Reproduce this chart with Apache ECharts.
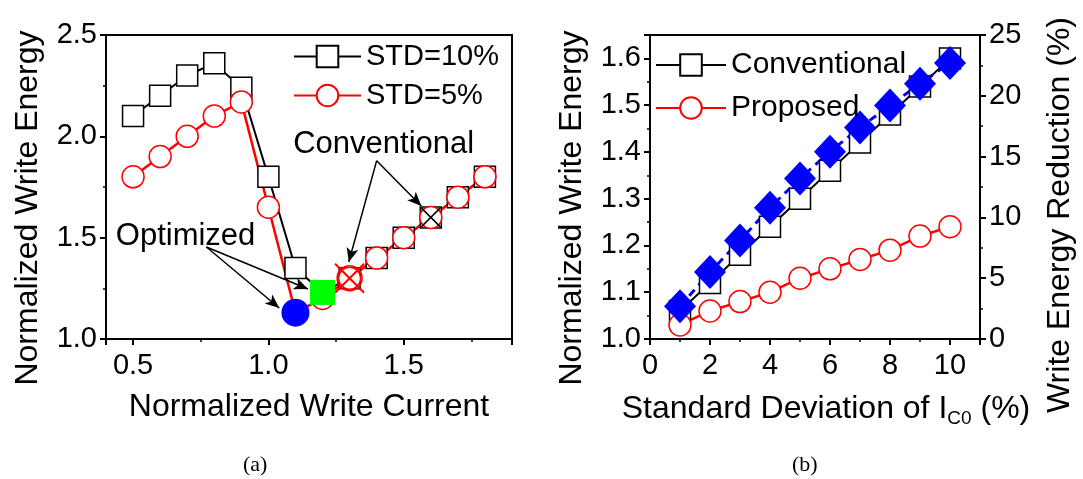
<!DOCTYPE html>
<html>
<head>
<meta charset="utf-8">
<script src="https://cdn.jsdelivr.net/npm/echarts@6/dist/echarts.min.js"></script>
<style>
  html, body { margin: 0; padding: 0; background: #fff; }
  #chart { width: 1083px; height: 479px; }
</style>
</head>
<body>
<div id="chart"></div>
<script>
// (a) write energy vs write current
var currentX = [0.5, 0.6, 0.7, 0.8, 0.9, 1.0, 1.1, 1.2, 1.3, 1.4, 1.5, 1.6, 1.7, 1.8];
var std10 = [2.10, 2.20, 2.30, 2.36, 2.24, 1.80, 1.35, 1.23, 1.30, 1.40, 1.50, 1.60, 1.70, 1.80];
var std5 = [1.80, 1.90, 2.00, 2.10, 2.17, 1.65, 1.13, 1.20, 1.30, 1.40, 1.50, 1.60, 1.70, 1.80];
var optBlue = [1.1, 1.13];
var optGreen = [1.2, 1.23];
var convRed = [1.3, 1.30];
var convBlack = [1.6, 1.60];

// (b) write energy vs std of Ic0
var sigma = [1, 2, 3, 4, 5, 6, 7, 8, 9, 10];
var conventional = [1.06, 1.12, 1.18, 1.24, 1.30, 1.36, 1.42, 1.48, 1.54, 1.60];
var proposed = [1.03, 1.06, 1.08, 1.10, 1.13, 1.15, 1.17, 1.19, 1.22, 1.24];
var reduction = [2.7, 5.5, 8.1, 10.8, 13.2, 15.4, 17.4, 19.2, 21.0, 22.7];

function pairs(xs, ys) {
    return xs.map(function (x, i) { return [x, ys[i]]; });
}

var myChart = echarts.init(document.getElementById('chart'));

var axisBase = {
    axisLine: { lineStyle: { color: '#000', width: 2 } },
    axisTick: { inside: false, length: 6, lineStyle: { color: '#000', width: 2 } },
    minorTick: { show: true, splitNumber: 2, length: 3, lineStyle: { color: '#000', width: 1.5 } },
    splitLine: { show: false },
    nameLocation: 'middle',
    nameTextStyle: { fontSize: 32, color: '#000' }
};

function axis(extra) {
    return Object.assign({}, JSON.parse(JSON.stringify(axisBase)), extra);
}

var option = {
    animation: false,
    textStyle: { fontFamily: 'Liberation Sans' },
    grid: [
        { left: 106, top: 35, width: 406, height: 304, show: true, borderColor: '#000', borderWidth: 2 },
        { left: 650, top: 35, width: 330, height: 304, show: true, borderColor: '#000', borderWidth: 2 }
    ],
    xAxis: [
        axis({
            gridIndex: 0, type: 'value', min: 0.4, max: 1.9, splitNumber: 3,
            name: 'Normalized Write Current', nameGap: 52,
            axisLabel: { fontSize: 29, color: '#000', margin: 12, showMinLabel: false, showMaxLabel: false,
                formatter: function (v) { return v.toFixed(1); } }
        }),
        axis({
            gridIndex: 1, type: 'value', min: 0, max: 11, interval: 2,
            name: 'Standard Deviation of I{sub|C0} (%)', nameGap: 52,
            nameTextStyle: { fontSize: 32, color: '#000', padding: [0, 0, 0, 22],
                rich: { sub: { fontSize: 19, padding: [18, 0, 0, 0] } } },
            axisLabel: { fontSize: 29, color: '#000', margin: 12, showMaxLabel: false }
        })
    ],
    yAxis: [
        axis({
            gridIndex: 0, type: 'value', min: 1.0, max: 2.5, interval: 0.5,
            name: 'Normalized Write Energy', nameGap: 62,
            nameTextStyle: { fontSize: 32, color: '#000', padding: [0, 42, 0, 0] },
            axisLabel: { fontSize: 29, color: '#000', margin: 9,
                formatter: function (v) { return v.toFixed(1); } }
        }),
        axis({
            gridIndex: 1, type: 'value', min: 1.0, max: 1.65, interval: 0.1,
            name: 'Normalized Write Energy', nameGap: 62,
            nameTextStyle: { fontSize: 32, color: '#000', padding: [0, 42, 0, 0] },
            axisLabel: { fontSize: 29, color: '#000', margin: 9, showMaxLabel: false,
                formatter: function (v) { return v.toFixed(1); } }
        }),
        axis({
            gridIndex: 1, type: 'value', position: 'right', min: 0, max: 25, interval: 5,
            name: 'Write Energy Reduction (%)', nameGap: 64, nameRotate: 90,
            nameTextStyle: { fontSize: 32, color: '#000', padding: [0, 56, 0, 0] },
            axisLine: { show: true, lineStyle: { color: '#000', width: 2 } },
            axisLabel: { fontSize: 29, color: '#000', margin: 9 }
        })
    ],
    legend: [
        {
            data: ['STD=10%', 'STD=5%'], orient: 'vertical', left: 288, top: 37,
            itemWidth: 67, itemHeight: 27, itemGap: 10,
            textStyle: { fontSize: 29, color: '#000' }
        },
        {
            data: ['Conventional', 'Proposed'], orient: 'vertical', left: 650, top: 45,
            itemWidth: 70, itemHeight: 27, itemGap: 13,
            textStyle: { fontSize: 30, color: '#000' }
        }
    ],
    graphic: [
        { type: 'text', left: 243, top: 454, style: { text: '(a)', font: '22px "Liberation Serif"', fill: '#000' } },
        { type: 'text', left: 792, top: 454, style: { text: '(b)', font: '22px "Liberation Serif"', fill: '#000' } }
    ],
    series: [
        {
            name: 'STD=10%', type: 'line', xAxisIndex: 0, yAxisIndex: 0,
            data: pairs(currentX, std10),
            symbol: 'rect', symbolSize: 21,
            itemStyle: { color: '#fff', borderColor: '#000', borderWidth: 1.5 },
            lineStyle: { color: '#000', width: 2 }
        },
        {
            name: 'STD=5%', type: 'line', xAxisIndex: 0, yAxisIndex: 0,
            data: pairs(currentX, std5),
            symbol: 'circle', symbolSize: 22,
            itemStyle: { color: '#fff', borderColor: '#ff0000', borderWidth: 1.5 },
            lineStyle: { color: '#ff0000', width: 2.5 }
        },
        {
            name: 'conv-marks', type: 'scatter', xAxisIndex: 0, yAxisIndex: 0, z: 4,
            data: [
                { value: convRed, symbol: 'circle', symbolSize: 25,
                  itemStyle: { color: 'none', borderColor: '#ff0000', borderWidth: 1.5, opacity: 1 } },
                { value: convRed, symbol: 'path://M0,0L10,10M10,0L0,10', symbolSize: 29,
                  itemStyle: { color: 'none', borderColor: '#ff0000', borderWidth: 2, opacity: 1 } },
                { value: convBlack, symbol: 'path://M0,0L10,10M10,0L0,10', symbolSize: 19,
                  itemStyle: { color: 'none', borderColor: '#000', borderWidth: 1.5, opacity: 1 } }
            ],
            markLine: {
                silent: true, symbol: ['none', 'arrow'], symbolSize: [9, 14],
                label: { show: false },
                lineStyle: { color: '#000', width: 1.5, type: 'solid' },
                data: [
                    [{ coord: [1.40, 1.88] }, { coord: [1.297, 1.38] }],
                    [{ coord: [1.40, 1.88] }, { coord: [1.565, 1.656] }]
                ]
            },
            markPoint: {
                silent: true, symbol: 'rect', symbolSize: 1, itemStyle: { color: 'rgba(0,0,0,0)' },
                label: { show: true, position: 'inside', fontSize: 31, color: '#000' },
                data: [{ coord: [1.426, 1.962], label: { formatter: 'Conventional' } }]
            }
        },
        {
            name: 'opt-marks', type: 'scatter', xAxisIndex: 0, yAxisIndex: 0, z: 5,
            data: [
                { value: optGreen, symbol: 'rect', symbolSize: 25, itemStyle: { color: '#00ff00', opacity: 1 } },
                { value: optBlue, symbol: 'circle', symbolSize: 28, itemStyle: { color: '#0000ff', opacity: 1 } }
            ],
            markLine: {
                silent: true, symbol: ['none', 'arrow'], symbolSize: [9, 14],
                label: { show: false },
                lineStyle: { color: '#000', width: 1.5, type: 'solid' },
                data: [
                    [{ coord: [0.771, 1.454] }, { coord: [1.04, 1.153] }],
                    [{ coord: [0.771, 1.454] }, { coord: [1.146, 1.247] }]
                ]
            },
            markPoint: {
                silent: true, symbol: 'rect', symbolSize: 1, itemStyle: { color: 'rgba(0,0,0,0)' },
                label: { show: true, position: 'inside', fontSize: 31, color: '#000' },
                data: [{ coord: [0.694, 1.508], label: { formatter: 'Optimized' } }]
            }
        },
        {
            name: 'Conventional', type: 'line', xAxisIndex: 1, yAxisIndex: 1,
            data: pairs(sigma, conventional),
            symbol: 'rect', symbolSize: 21,
            itemStyle: { color: '#fff', borderColor: '#000', borderWidth: 1.5 },
            lineStyle: { color: '#000', width: 2 }
        },
        {
            name: 'Proposed', type: 'line', xAxisIndex: 1, yAxisIndex: 1,
            data: pairs(sigma, proposed),
            symbol: 'circle', symbolSize: 22,
            itemStyle: { color: '#fff', borderColor: '#ff0000', borderWidth: 1.5 },
            lineStyle: { color: '#ff0000', width: 2.5 }
        },
        {
            name: 'Reduction', type: 'line', xAxisIndex: 1, yAxisIndex: 2,
            data: pairs(sigma, reduction),
            symbol: 'diamond', symbolSize: [32, 34],
            itemStyle: { color: '#0000ff' },
            lineStyle: { color: '#0000ff', width: 3, type: [8, 6] }
        }
    ]
};
myChart.setOption(option);
</script>
</body>
</html>
